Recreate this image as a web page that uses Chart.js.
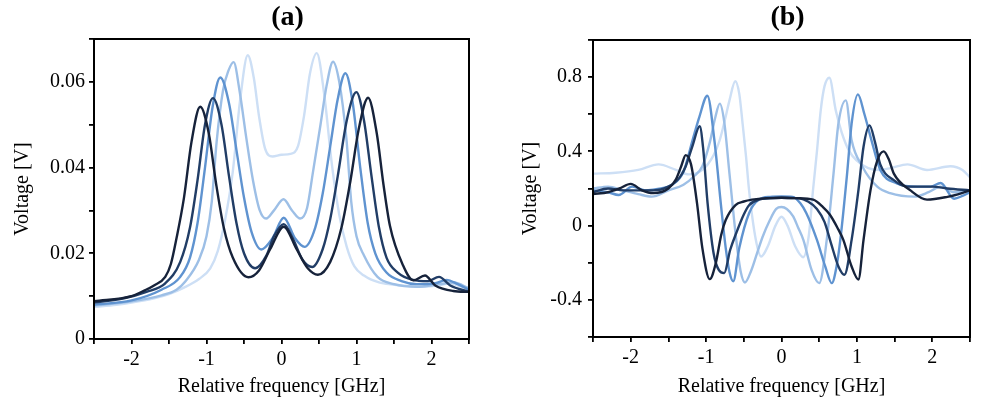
<!DOCTYPE html>
<html>
<head>
<meta charset="utf-8">
<script src="https://cdn.jsdelivr.net/npm/chart.js@4"></script>
<style>
	body { margin: 0; background: #fff; }
	.panel { position: absolute; top: 0; height: 405px; }
</style>
</head>
<body>
<div class="panel" style="left:0;width:490px"><canvas id="chartA" width="490" height="405"></canvas></div>
<div class="panel" style="left:490px;width:491px"><canvas id="chartB" width="491" height="405"></canvas></div>
<script>
// light -> dark
const lineColors = ['#cddff5', '#9dbfe6', '#5f93d0', '#213d66', '#16223a'];

// panel (a): transmission, Voltage [V] vs relative frequency [GHz]
const a1X = [-2.5, -2.2, -2.0, -1.7, -1.5, -1.3, -1.1, -0.95, -0.85, -0.75, -0.65, -0.55, -0.45, -0.37, -0.3, -0.22, -0.12, 0, 0.12, 0.22, 0.3, 0.38, 0.47, 0.57, 0.67, 0.77, 0.87, 0.97, 1.1, 1.3, 1.6, 1.9, 2.1, 2.25, 2.4, 2.5];
const a1Y = [0.0075, 0.0080, 0.0085, 0.0095, 0.0105, 0.0120, 0.0140, 0.0165, 0.0205, 0.0280, 0.0390, 0.0560, 0.0662, 0.0610, 0.0520, 0.0445, 0.0426, 0.0430, 0.0432, 0.0450, 0.0520, 0.0620, 0.0667, 0.0570, 0.0410, 0.0290, 0.0215, 0.0170, 0.0148, 0.0132, 0.0125, 0.0122, 0.0125, 0.0130, 0.0122, 0.0120];

const a2X = [-2.5, -2.0, -1.6, -1.4, -1.28, -1.1, -1.0, -0.93, -0.865, -0.78, -0.71, -0.638, -0.56, -0.47, -0.38, -0.29, -0.205, -0.1, 0.027, 0.14, 0.25, 0.34, 0.42, 0.52, 0.6, 0.687, 0.77, 0.865, 0.93, 1.0, 1.1, 1.28, 1.5, 1.8, 2.1, 2.3, 2.5];
const a2Y = [0.0078, 0.0088, 0.0102, 0.0115, 0.0135, 0.0185, 0.0240, 0.0320, 0.0460, 0.0580, 0.0625, 0.0646, 0.0580, 0.0470, 0.0370, 0.0300, 0.0281, 0.0300, 0.0326, 0.0300, 0.0281, 0.0305, 0.0390, 0.0500, 0.0590, 0.0647, 0.0600, 0.0468, 0.0320, 0.0240, 0.0195, 0.0145, 0.0128, 0.0122, 0.0128, 0.0132, 0.0118];

const a3X = [-2.5, -2.0, -1.6, -1.35, -1.22, -1.12, -1.02, -0.92, -0.816, -0.7, -0.6, -0.5, -0.4, -0.27, -0.12, 0.03, 0.18, 0.308, 0.45, 0.55, 0.65, 0.75, 0.852, 0.95, 1.05, 1.15, 1.25, 1.4, 1.6, 1.8, 2.05, 2.2, 2.35, 2.5];
const a3Y = [0.0080, 0.0090, 0.0115, 0.0145, 0.0190, 0.0270, 0.0400, 0.0540, 0.0610, 0.0550, 0.0440, 0.0330, 0.0250, 0.0209, 0.0235, 0.0283, 0.0235, 0.0215, 0.0260, 0.0340, 0.0450, 0.0560, 0.0620, 0.0550, 0.0400, 0.0270, 0.0200, 0.0155, 0.0135, 0.0128, 0.0130, 0.0138, 0.0128, 0.0115];

const a4X = [-2.5, -2.1, -1.8, -1.55, -1.35, -1.22, -1.12, -1.02, -0.914, -0.8, -0.7, -0.6, -0.5, -0.352, -0.2, -0.1, 0.03, 0.15, 0.28, 0.41, 0.55, 0.65, 0.75, 0.87, 0.999, 1.1, 1.2, 1.3, 1.4, 1.55, 1.75, 1.95, 2.1, 2.25, 2.5];
const a4Y = [0.0085, 0.0095, 0.0110, 0.0130, 0.0180, 0.0260, 0.0370, 0.0500, 0.0562, 0.0500, 0.0380, 0.0270, 0.0200, 0.0165, 0.0195, 0.0240, 0.0268, 0.0235, 0.0185, 0.0168, 0.0210, 0.0280, 0.0380, 0.0510, 0.0576, 0.0510, 0.0380, 0.0260, 0.0190, 0.0155, 0.0138, 0.0135, 0.0145, 0.0125, 0.0110];

const a5X = [-2.5, -2.0, -1.83, -1.7, -1.55, -1.475, -1.4, -1.3, -1.2, -1.084, -0.97, -0.87, -0.77, -0.65, -0.44, -0.3, -0.15, 0.03, 0.2, 0.35, 0.486, 0.65, 0.8, 0.92, 1.03, 1.155, 1.27, 1.36, 1.445, 1.62, 1.757, 1.913, 2.05, 2.29, 2.5];
const a5Y = [0.0088, 0.0100, 0.0113, 0.0125, 0.0145, 0.0175, 0.0235, 0.0330, 0.0460, 0.0542, 0.0480, 0.0360, 0.0260, 0.0190, 0.0144, 0.0160, 0.0210, 0.0262, 0.0210, 0.0165, 0.0150, 0.0180, 0.0260, 0.0370, 0.0490, 0.0563, 0.0480, 0.0360, 0.0265, 0.0172, 0.0137, 0.0148, 0.0125, 0.0112, 0.0110];

// panel (b): dispersion signal
const b1X = [-2.5, -2.2, -1.9, -1.63, -1.4, -1.23, -1.05, -0.9, -0.82, -0.75, -0.69, -0.613, -0.56, -0.516, -0.47, -0.43, -0.34, -0.27, -0.18, -0.08, 0, 0.08, 0.18, 0.288, 0.36, 0.42, 0.47, 0.52, 0.57, 0.635, 0.72, 0.8, 0.9, 1.0, 1.15, 1.3, 1.45, 1.67, 1.93, 2.24, 2.4, 2.5];
const b1Y = [0.28, 0.285, 0.30, 0.33, 0.30, 0.276, 0.30, 0.38, 0.46, 0.57, 0.675, 0.778, 0.71, 0.55, 0.37, 0.19, -0.077, -0.166, -0.11, 0.0, 0.048, 0.0, -0.11, -0.17, -0.06, 0.20, 0.40, 0.62, 0.75, 0.797, 0.62, 0.50, 0.40, 0.35, 0.31, 0.30, 0.31, 0.33, 0.30, 0.32, 0.30, 0.26];

const b2X = [-2.5, -2.3, -2.1, -1.9, -1.72, -1.5, -1.3, -1.15, -1.05, -0.95, -0.88, -0.818, -0.76, -0.69, -0.6, -0.54, -0.485, -0.4, -0.338, -0.25, -0.16, -0.07, 0, 0.07, 0.155, 0.22, 0.29, 0.4, 0.5, 0.6, 0.69, 0.755, 0.853, 0.93, 1.07, 1.27, 1.44, 1.76, 1.95, 2.11, 2.29, 2.5];
const b2Y = [0.20, 0.21, 0.19, 0.17, 0.156, 0.19, 0.22, 0.27, 0.32, 0.45, 0.58, 0.657, 0.56, 0.28, -0.077, -0.25, -0.306, -0.24, -0.166, -0.06, 0.025, 0.09, 0.10, 0.09, 0.05, -0.01, -0.077, -0.24, -0.31, -0.077, 0.28, 0.55, 0.675, 0.46, 0.32, 0.21, 0.175, 0.156, 0.18, 0.21, 0.18, 0.19];

const b3X = [-2.5, -2.3, -2.16, -1.98, -1.8, -1.6, -1.45, -1.3, -1.18, -1.09, -0.983, -0.89, -0.8, -0.74, -0.69, -0.64, -0.56, -0.43, -0.3, -0.15, 0, 0.15, 0.25, 0.33, 0.47, 0.58, 0.667, 0.73, 0.78, 0.87, 0.93, 1.013, 1.1, 1.2, 1.31, 1.53, 1.8, 1.98, 2.11, 2.29, 2.4, 2.5];
const b3Y = [0.19, 0.18, 0.165, 0.21, 0.19, 0.20, 0.22, 0.29, 0.46, 0.585, 0.70, 0.46, 0.10, -0.12, -0.25, -0.30, -0.12, 0.067, 0.14, 0.155, 0.157, 0.155, 0.12, 0.067, -0.077, -0.22, -0.31, -0.22, -0.077, 0.28, 0.55, 0.707, 0.60, 0.45, 0.30, 0.228, 0.21, 0.21, 0.23, 0.145, 0.16, 0.18];

const b4X = [-2.5, -2.3, -2.1, -1.9, -1.7, -1.5, -1.35, -1.27, -1.18, -1.085, -1.04, -0.98, -0.9, -0.83, -0.76, -0.68, -0.6, -0.5, -0.43, -0.3, -0.15, 0, 0.15, 0.24, 0.35, 0.47, 0.57, 0.66, 0.755, 0.835, 0.93, 1.02, 1.088, 1.168, 1.24, 1.31, 1.49, 1.67, 2.0, 2.2, 2.5];
const b4Y = [0.18, 0.20, 0.19, 0.19, 0.19, 0.21, 0.26, 0.32, 0.43, 0.535, 0.42, 0.12, -0.15, -0.24, -0.256, -0.13, -0.04, 0.06, 0.11, 0.14, 0.147, 0.15, 0.148, 0.147, 0.13, 0.09, 0.02, -0.10, -0.22, -0.265, -0.077, 0.19, 0.425, 0.54, 0.45, 0.33, 0.245, 0.21, 0.21, 0.20, 0.19];

const b5X = [-2.5, -2.3, -2.15, -2.0, -1.85, -1.7, -1.5, -1.4, -1.33, -1.27, -1.2, -1.12, -1.05, -0.952, -0.87, -0.8, -0.74, -0.61, -0.5, -0.39, -0.2, 0, 0.2, 0.42, 0.55, 0.64, 0.74, 0.82, 0.93, 1.02, 1.088, 1.18, 1.27, 1.355, 1.42, 1.49, 1.71, 1.93, 2.2, 2.35, 2.5];
const b5Y = [0.17, 0.18, 0.20, 0.225, 0.19, 0.175, 0.20, 0.25, 0.32, 0.38, 0.33, 0.12, -0.12, -0.288, -0.20, -0.05, 0.03, 0.111, 0.13, 0.14, 0.148, 0.15, 0.148, 0.14, 0.10, 0.06, -0.01, -0.077, -0.22, -0.29, -0.077, 0.19, 0.35, 0.40, 0.36, 0.28, 0.19, 0.14, 0.155, 0.17, 0.19];

const serif = '"Liberation Serif", "Times New Roman", serif';

function toPoints(xs, ys) {
	return xs.map((x, i) => ({ x: x, y: ys[i] }));
}

function makeDatasets(series) {
	return series.map((s, i) => ({
		data: toPoints(s[0], s[1]),
		borderColor: lineColors[i],
		borderWidth: 2.4,
		pointRadius: 0,
		fill: false,
		cubicInterpolationMode: 'monotone',
		order: series.length - i, // darkest on top
	}));
}

// frame around the plot and the (a)/(b) label
const framePlugin = {
	id: 'frame',
	afterDraw(chart, args, opts) {
		const { ctx, chartArea } = chart;
		ctx.save();
		ctx.strokeStyle = '#000';
		ctx.lineWidth = 2;
		ctx.strokeRect(chartArea.left, chartArea.top, chartArea.width, chartArea.height);
		ctx.fillStyle = '#000';
		ctx.font = 'bold 28px ' + serif;
		ctx.textAlign = 'center';
		ctx.textBaseline = 'middle';
		ctx.fillText(opts.text, (chartArea.left + chartArea.right) / 2 + 6, 18);
		ctx.restore();
	},
};

function near(v, step) {
	return Math.abs(v / step - Math.round(v / step)) < 1e-6;
}

function makeChart(id, datasets, cfg) {
	const ctx = document.getElementById(id).getContext('2d');
	return new Chart(ctx, {
		type: 'line',
		data: { datasets: datasets },
		plugins: [framePlugin],
		options: {
			responsive: false,
			animation: false,
			layout: { padding: { left: 0, right: cfg.padRight, top: cfg.padTop, bottom: 0 } },
			plugins: {
				legend: { display: false },
				tooltip: { enabled: false },
				frame: { text: cfg.title },
			},
			scales: {
				x: {
					type: 'linear',
					min: -2.5,
					max: 2.5,
					border: { display: false },
					grid: { drawOnChartArea: false, drawTicks: true, tickLength: 5, color: '#000', lineWidth: 1.8 },
					ticks: {
						stepSize: 0.5,
						autoSkip: false,
						maxRotation: 0,
						padding: 4,
						color: '#000',
						font: { family: serif, size: 20 },
						callback: (v) => (near(v, 1) && Math.abs(v) < 2.4 ? String(Math.round(v)) : ''),
					},
					title: {
						display: true,
						text: 'Relative frequency [GHz]',
						color: '#000',
						font: { family: serif, size: 20 },
						padding: { top: 0, bottom: 6 },
					},
					afterFit: (scale) => { scale.height = cfg.xHeight; },
				},
				y: {
					type: 'linear',
					min: cfg.yMin,
					max: cfg.yMax,
					border: { display: false },
					grid: { drawOnChartArea: false, drawTicks: true, tickLength: 5, color: '#000', lineWidth: 1.8 },
					ticks: {
						stepSize: cfg.yStep,
						autoSkip: false,
						padding: cfg.yTickPad,
						color: '#000',
						font: { family: serif, size: 20 },
						callback: cfg.yLabel,
					},
					title: {
						display: true,
						text: 'Voltage [V]',
						color: '#000',
						font: { family: serif, size: 20 },
						padding: { top: cfg.yTitlePad, bottom: 0 },
					},
					afterFit: (scale) => { scale.width = cfg.yWidth; },
				},
			},
		},
	});
}

makeChart('chartA', makeDatasets([[a1X, a1Y], [a2X, a2Y], [a3X, a3Y], [a4X, a4Y], [a5X, a5Y]]), {
	title: '(a)',
	padRight: 21,
	padTop: 39,
	xHeight: 66,
	yWidth: 94,
	yMin: 0,
	yMax: 0.07,
	yStep: 0.01,
	yTickPad: 4,
	yTitlePad: 11,
	yLabel: (v) => (near(v, 0.02) ? (Math.abs(v) < 1e-9 ? '0' : v.toFixed(2)) : ''),
});

makeChart('chartB', makeDatasets([[b1X, b1Y], [b2X, b2Y], [b3X, b3Y], [b4X, b4Y], [b5X, b5Y]]), {
	title: '(b)',
	padRight: 11,
	padTop: 40,
	xHeight: 68,
	yWidth: 103,
	yMin: -0.6,
	yMax: 1.0,
	yStep: 0.2,
	yTickPad: 6,
	yTitlePad: 29,
	yLabel: (v) => (near(v, 0.4) ? (Math.abs(v) < 1e-9 ? '0' : v.toFixed(1)) : ''),
});
</script>
</body>
</html>
